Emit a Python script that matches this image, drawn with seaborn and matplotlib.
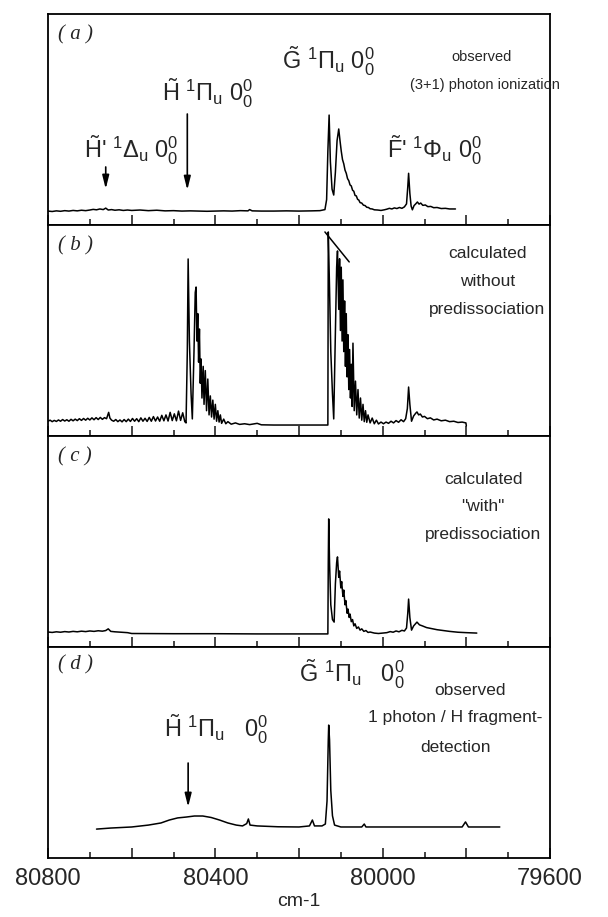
import numpy as np
import pandas as pd
import matplotlib
matplotlib.use("Agg")
import matplotlib.pyplot as plt
import seaborn as sns
from matplotlib.ticker import MultipleLocator, FuncFormatter

# spectra: (wavenumber cm-1, intensity in panel units)
trace_a = [
    (80800, 0.066), (80790, 0.064), (80780, 0.067), (80770, 0.065), (80760, 0.068), (80750, 0.066),
    (80740, 0.069), (80730, 0.067), (80720, 0.070), (80710, 0.068), (80700, 0.071), (80692, 0.074),
    (80684, 0.072), (80676, 0.076), (80668, 0.073), (80662, 0.080), (80656, 0.071), (80648, 0.073),
    (80640, 0.070), (80630, 0.072), (80620, 0.069), (80610, 0.071), (80600, 0.069), (80580, 0.071),
    (80560, 0.068), (80540, 0.070), (80520, 0.067), (80500, 0.068), (80480, 0.066), (80460, 0.067),
    (80440, 0.066), (80420, 0.065), (80400, 0.066), (80380, 0.067), (80360, 0.066), (80340, 0.068),
    (80322, 0.067), (80318, 0.073), (80312, 0.067), (80290, 0.066), (80260, 0.066), (80230, 0.067),
    (80200, 0.066), (80170, 0.067), (80150, 0.068), (80138, 0.073), (80134, 0.12), (80131, 0.35),
    (80128, 0.521), (80125, 0.30), (80121, 0.17), (80117, 0.142), (80113, 0.25), (80109, 0.40),
    (80105, 0.455), (80102, 0.40), (80099, 0.35), (80096, 0.31), (80093, 0.29), (80090, 0.26),
    (80087, 0.245), (80084, 0.22), (80081, 0.21), (80078, 0.19), (80075, 0.185), (80072, 0.165),
    (80069, 0.16), (80066, 0.14), (80063, 0.138), (80060, 0.122), (80057, 0.118), (80054, 0.106),
    (80050, 0.104), (80046, 0.094), (80042, 0.092), (80038, 0.084), (80034, 0.083), (80030, 0.077),
    (80025, 0.076), (80020, 0.072), (80012, 0.071), (80004, 0.069), (79996, 0.072), (79990, 0.075),
    (79984, 0.079), (79978, 0.076), (79972, 0.081), (79966, 0.078), (79960, 0.083), (79954, 0.079),
    (79948, 0.086), (79943, 0.10), (79940, 0.18), (79938, 0.245), (79935, 0.15), (79932, 0.09),
    (79929, 0.072), (79925, 0.092), (79921, 0.100), (79917, 0.109), (79913, 0.099), (79909, 0.104),
    (79904, 0.093), (79898, 0.095), (79892, 0.087), (79885, 0.088), (79878, 0.082), (79870, 0.083),
    (79860, 0.078), (79850, 0.079), (79840, 0.076), (79826, 0.076),
]

trace_b = [
    (80800, 0.070), (80795, 0.075), (80790, 0.068), (80785, 0.074), (80780, 0.069), (80775, 0.076),
    (80770, 0.070), (80765, 0.078), (80760, 0.071), (80755, 0.077), (80750, 0.070), (80745, 0.079),
    (80740, 0.072), (80735, 0.080), (80730, 0.073), (80725, 0.082), (80720, 0.074), (80715, 0.083),
    (80710, 0.075), (80705, 0.084), (80700, 0.076), (80695, 0.086), (80690, 0.077), (80685, 0.087),
    (80680, 0.078), (80675, 0.088), (80670, 0.079), (80665, 0.087), (80660, 0.082), (80655, 0.112),
    (80652, 0.085), (80648, 0.075), (80643, 0.070), (80638, 0.078), (80633, 0.068), (80628, 0.076),
    (80623, 0.067), (80618, 0.078), (80613, 0.068), (80608, 0.080), (80603, 0.069), (80598, 0.083),
    (80593, 0.070), (80588, 0.082), (80583, 0.068), (80578, 0.086), (80573, 0.070), (80568, 0.084),
    (80563, 0.069), (80558, 0.088), (80553, 0.070), (80548, 0.092), (80543, 0.071), (80538, 0.090),
    (80533, 0.070), (80528, 0.098), (80523, 0.072), (80518, 0.100), (80513, 0.071), (80508, 0.112),
    (80503, 0.073), (80498, 0.105), (80493, 0.072), (80488, 0.118), (80483, 0.074), (80478, 0.110),
    (80473, 0.068), (80470, 0.062), (80467, 0.40), (80465, 0.839), (80462, 0.45), (80458, 0.20),
    (80455, 0.081), (80451, 0.40), (80448, 0.68), (80446, 0.706), (80444, 0.45), (80442, 0.58),
    (80440, 0.35), (80438, 0.507), (80436, 0.25), (80434, 0.365), (80432, 0.18), (80429, 0.33),
    (80427, 0.15), (80424, 0.31), (80421, 0.12), (80418, 0.27), (80415, 0.10), (80412, 0.19),
    (80409, 0.09), (80406, 0.17), (80403, 0.08), (80400, 0.15), (80397, 0.07), (80394, 0.12),
    (80391, 0.066), (80388, 0.10), (80385, 0.060), (80380, 0.080), (80375, 0.058), (80370, 0.068),
    (80362, 0.056), (80352, 0.062), (80342, 0.055), (80330, 0.058), (80318, 0.054), (80300, 0.060),
    (80290, 0.053), (80260, 0.052), (80200, 0.052), (80131, 0.052), (80130, 0.967), (80127, 0.70),
    (80124, 0.40), (80120, 0.20), (80117, 0.081), (80113, 0.50), (80110, 0.80), (80108, 0.877),
    (80105, 0.60), (80103, 0.84), (80101, 0.50), (80099, 0.80), (80097, 0.45), (80095, 0.74),
    (80093, 0.40), (80091, 0.64), (80089, 0.33), (80087, 0.58), (80085, 0.28), (80083, 0.48),
    (80081, 0.22), (80079, 0.41), (80077, 0.18), (80075, 0.34), (80073, 0.14), (80071, 0.44),
    (80068, 0.12), (80065, 0.26), (80062, 0.10), (80059, 0.22), (80056, 0.085), (80053, 0.18),
    (80050, 0.075), (80047, 0.15), (80044, 0.068), (80041, 0.12), (80038, 0.065), (80035, 0.10),
    (80030, 0.062), (80025, 0.085), (80020, 0.058), (80015, 0.075), (80010, 0.057), (80004, 0.066),
    (79998, 0.058), (79992, 0.066), (79986, 0.060), (79980, 0.070), (79974, 0.062), (79968, 0.073),
    (79962, 0.065), (79956, 0.077), (79950, 0.068), (79945, 0.082), (79941, 0.13), (79938, 0.232),
    (79935, 0.15), (79931, 0.07), (79926, 0.095), (79921, 0.108), (79918, 0.114), (79914, 0.100),
    (79910, 0.104), (79905, 0.090), (79900, 0.093), (79893, 0.082), (79886, 0.086), (79878, 0.076),
    (79870, 0.080), (79860, 0.072), (79850, 0.075), (79840, 0.068), (79830, 0.070), (79820, 0.064),
    (79810, 0.066), (79801, 0.062), (79800, 0.048),
]

trace_c = [
    (80800, 0.071), (80790, 0.069), (80780, 0.072), (80770, 0.070), (80760, 0.073), (80750, 0.071),
    (80740, 0.074), (80730, 0.072), (80720, 0.075), (80710, 0.073), (80700, 0.076), (80690, 0.074),
    (80680, 0.077), (80670, 0.075), (80662, 0.078), (80656, 0.086), (80650, 0.074), (80640, 0.072),
    (80625, 0.070), (80610, 0.068), (80600, 0.064), (80500, 0.063), (80400, 0.063), (80300, 0.062),
    (80200, 0.062), (80131, 0.062), (80130, 0.40), (80129, 0.607), (80127, 0.40), (80124, 0.20),
    (80120, 0.13), (80116, 0.118), (80113, 0.30), (80110, 0.40), (80108, 0.427), (80105, 0.33),
    (80103, 0.36), (80100, 0.28), (80098, 0.31), (80095, 0.24), (80093, 0.27), (80090, 0.20),
    (80088, 0.22), (80085, 0.16), (80083, 0.18), (80080, 0.14), (80078, 0.156), (80075, 0.12),
    (80072, 0.13), (80069, 0.10), (80066, 0.11), (80062, 0.088), (80058, 0.095), (80054, 0.080),
    (80050, 0.086), (80045, 0.074), (80040, 0.078), (80035, 0.069), (80030, 0.071), (80020, 0.066),
    (80010, 0.064), (80000, 0.066), (79990, 0.068), (79982, 0.073), (79975, 0.070), (79968, 0.076),
    (79961, 0.072), (79954, 0.079), (79948, 0.076), (79943, 0.09), (79940, 0.16), (79938, 0.227),
    (79935, 0.14), (79931, 0.08), (79926, 0.10), (79918, 0.118), (79912, 0.105), (79905, 0.100),
    (79895, 0.092), (79885, 0.088), (79870, 0.082), (79855, 0.078), (79840, 0.074), (79820, 0.070),
    (79800, 0.068), (79775, 0.066),
]

trace_d = [
    (80684, 0.137), (80650, 0.142), (80600, 0.147), (80560, 0.156), (80530, 0.166), (80510, 0.180),
    (80490, 0.190), (80470, 0.194), (80450, 0.199), (80430, 0.199), (80410, 0.192), (80390, 0.180),
    (80370, 0.166), (80350, 0.156), (80335, 0.152), (80325, 0.163), (80321, 0.185), (80317, 0.156),
    (80300, 0.152), (80250, 0.148), (80200, 0.147), (80175, 0.152), (80168, 0.180), (80163, 0.152),
    (80145, 0.152), (80137, 0.161), (80133, 0.27), (80130, 0.56), (80129, 0.630), (80127, 0.56),
    (80124, 0.32), (80120, 0.20), (80115, 0.156), (80100, 0.147), (80050, 0.147), (80044, 0.161),
    (80040, 0.147), (79900, 0.147), (79810, 0.147), (79802, 0.171), (79795, 0.147), (79720, 0.147),
]

# slope guide drawn over the G band in (b)
guide_b = [(80138, 0.967), (80080, 0.825)]

panel_tags = ["( a )", "( b )", "( c )", "( d )"]
x_ticklabels = [80800, 80400, 80000, 79600]

sns.set_style("ticks")
plt.rcParams["font.family"] = ["Liberation Sans", "DejaVu Sans"]
plt.rcParams["mathtext.fontset"] = "custom"
plt.rcParams["mathtext.rm"] = "Liberation Sans"
plt.rcParams["mathtext.it"] = "Liberation Sans:italic"

fig, axes = plt.subplots(4, 1, figsize=(6.08, 9.17), dpi=100, sharex=True,
                         gridspec_kw=dict(hspace=0))
fig.subplots_adjust(left=48 / 608, right=550 / 608, top=1 - 14 / 917, bottom=1 - 858 / 917)

for ax, tr in zip(axes, [trace_a, trace_b, trace_c, trace_d]):
    df = pd.DataFrame(tr, columns=["wn", "inten"])
    sns.lineplot(data=df, x="wn", y="inten", ax=ax, color="black", lw=1.1,
                 estimator=None, sort=False)
    ax.set_xlim(80800, 79600)
    ax.set_ylim(0, 1)
    ax.set_xlabel("")
    ax.set_ylabel("")
    ax.set_yticks([])
    ax.xaxis.set_major_locator(MultipleLocator(200))
    ax.xaxis.set_minor_locator(MultipleLocator(100))
    ax.tick_params(axis="x", which="major", direction="in", length=7, width=1.2, pad=7,
                   labelsize=17, top=False)
    ax.tick_params(axis="x", which="minor", direction="in", length=4.5, width=1.2, top=False)
    for s in ax.spines.values():
        s.set_linewidth(1.3)
        s.set_color("black")

gb = pd.DataFrame(guide_b, columns=["wn", "inten"])
sns.lineplot(data=gb, x="wn", y="inten", ax=axes[1], color="black", lw=1.1, estimator=None)
axes[1].set_xlabel("")
axes[1].set_ylabel("")

axes[3].xaxis.set_major_formatter(FuncFormatter(
    lambda v, p: f"{v:.0f}" if int(round(v)) in x_ticklabels else ""))
axes[3].set_xlabel("cm-1", fontsize=14, labelpad=2)

# panel tags
tag_y = [0.90, 0.90, 0.90, 0.915]
for ax, t, ty in zip(axes, panel_tags, tag_y):
    ax.text(80775, ty, t, fontsize=15, family="Liberation Serif", style="italic",
            va="center", ha="left")

big = 17
small = dict(fontsize=12.5, ha="center", va="center")
tiny = dict(fontsize=10.5, ha="center", va="center", family=["Liberation Sans Narrow", "Liberation Sans"])

# (a)
ax = axes[0]
ax.text(80240, 0.735, r"$\tilde{\mathrm{G}}\ {}^{1}\Pi_{\mathrm{u}}\ 0^{0}_{0}$", fontsize=big, va="baseline")
ax.text(80527, 0.583, r"$\tilde{\mathrm{H}}\ {}^{1}\Pi_{\mathrm{u}}\ 0^{0}_{0}$", fontsize=big, va="baseline")
ax.text(80714, 0.313, r"$\tilde{\mathrm{H}}$' ${}^{1}\Delta_{\mathrm{u}}\ 0^{0}_{0}$", fontsize=big, va="baseline")
ax.text(79990, 0.313, r"$\tilde{\mathrm{F}}$' ${}^{1}\Phi_{\mathrm{u}}\ 0^{0}_{0}$", fontsize=big, va="baseline")
ax.text(79763, 0.796, "observed", **tiny)
ax.text(79755, 0.663, "(3+1) photon ionization", **tiny)
arr = dict(arrowstyle="-|>,head_length=0.8,head_width=0.2", color="black", lw=1.2,
           shrinkA=0, shrinkB=0)
ax.annotate("", xy=(80662, 0.171), xytext=(80662, 0.275), arrowprops=arr)
ax.annotate("", xy=(80467, 0.166), xytext=(80467, 0.526), arrowprops=arr)

# (b)
ax = axes[1]
ax.text(79750, 0.863, "calculated", **small)
ax.text(79750, 0.73, "without", **small)
ax.text(79750, 0.60, "predissociation", **small)

# (c)
ax = axes[2]
ax.text(79760, 0.796, "calculated", **small)
ax.text(79760, 0.664, "\"with\"", **small)
ax.text(79760, 0.531, "predissociation", **small)

# (d)
ax = axes[3]
ax.text(80200, 0.834, r"$\tilde{\mathrm{G}}\ {}^{1}\Pi_{\mathrm{u}}\quad 0^{0}_{0}$", fontsize=big, va="baseline")
ax.text(80522, 0.569, r"$\tilde{\mathrm{H}}\ {}^{1}\Pi_{\mathrm{u}}\quad 0^{0}_{0}$", fontsize=big, va="baseline")
ax.text(79791, 0.796, "observed", **small)
ax.text(79827, 0.664, "1 photon / H fragment-", **small)
ax.text(79827, 0.526, "detection", **small)
ax.annotate("", xy=(80465, 0.242), xytext=(80465, 0.45), arrowprops=arr)

fig.savefig("out.png", dpi=100)
